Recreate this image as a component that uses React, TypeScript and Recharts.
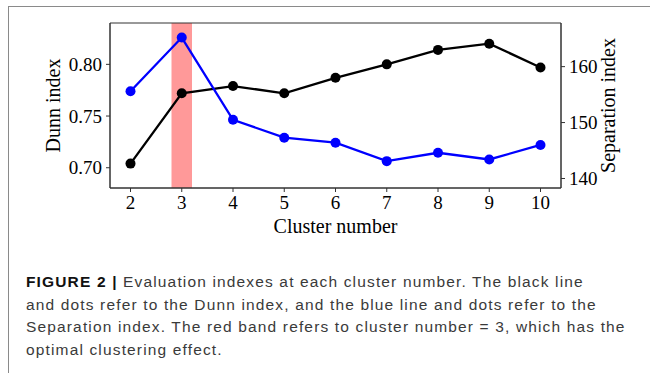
import React from "react";
import {
  ComposedChart,
  Line,
  XAxis,
  YAxis,
  ReferenceArea,
  Label,
} from "recharts";

// valores
const clusters = [2, 3, 4, 5, 6, 7, 8, 9, 10];
const dunnIndex = [0.704, 0.772, 0.779, 0.772, 0.787, 0.8, 0.814, 0.82, 0.797];
const separationIndex = [155.6, 165.2, 150.5, 147.3, 146.4, 143.1, 144.6, 143.4, 146.0];
const dunnTicks = [0.7, 0.75, 0.8];
const separationTicks = [140, 150, 160];
const optimalBand = [2.8, 3.2];

const serif = "'Liberation Serif', 'Times New Roman', serif";
const sans = "'Liberation Sans', Arial, sans-serif";

const data = clusters.map((c, i) => ({
  cluster: c,
  dunn: dunnIndex[i],
  separation: separationIndex[i],
}));

const tickStyle = { fill: "#000", fontSize: 19, fontFamily: serif };

const LeftLabel = (props: any) => {
  const vb = props.viewBox || { x: 50, y: 23, width: 60, height: 165 };
  const x = vb.x + 10;
  const y = vb.y + vb.height / 2;
  return (
    <text
      x={x}
      y={y}
      transform={`rotate(-90, ${x}, ${y})`}
      textAnchor="middle"
      fontSize={20}
      fontFamily={serif}
      fill="#000"
    >
      Dunn index
    </text>
  );
};

const RightLabel = (props: any) => {
  const vb = props.viewBox || { x: 561, y: 23, width: 60, height: 165 };
  const x = vb.x + 54;
  const y = vb.y + vb.height / 2;
  return (
    <text
      x={x}
      y={y}
      transform={`rotate(-90, ${x}, ${y})`}
      textAnchor="middle"
      fontSize={20}
      fontFamily={serif}
      fill="#000"
    >
      Separation index
    </text>
  );
};

const BottomLabel = (props: any) => {
  const vb = props.viewBox || { x: 110, y: 188, width: 451, height: 30 };
  return (
    <text
      x={vb.x + vb.width / 2}
      y={vb.y + 45}
      textAnchor="middle"
      fontSize={20}
      fontFamily={serif}
      fill="#000"
    >
      Cluster number
    </text>
  );
};

export default function App() {
  return (
    <div
      style={{
        position: "absolute",
        left: 0,
        top: 0,
        width: 650,
        height: 373,
        background: "#fff",
        overflow: "hidden",
      }}
    >
      {/* moldura da figura */}
      <div
        style={{
          position: "absolute",
          left: 8,
          top: 6,
          width: 660,
          height: 400,
          borderTop: "1.5px solid #8a8a8a",
          borderLeft: "1.5px solid #8a8a8a",
        }}
      />
      <div style={{ position: "absolute", left: 0, top: 0 }}>
        <ComposedChart
          width={650}
          height={245}
          data={data}
          margin={{ top: 23, right: 29, left: 50, bottom: 27 }}
        >
          <XAxis
            dataKey="cluster"
            type="number"
            domain={[1.6, 10.4]}
            ticks={clusters}
            allowDataOverflow
            height={30}
            tickSize={4}
            tickMargin={4}
            tick={tickStyle}
            axisLine={{ stroke: "#333" }}
            tickLine={{ stroke: "#333" }}
          >
            <Label content={BottomLabel} />
          </XAxis>
          <YAxis
            yAxisId="dunn"
            orientation="left"
            width={60}
            domain={[0.6804, 0.84]}
            ticks={dunnTicks}
            allowDataOverflow
            tickFormatter={(v: number) => v.toFixed(2)}
            tickSize={4}
            tickMargin={4}
            tick={tickStyle}
            axisLine={{ stroke: "#333" }}
            tickLine={{ stroke: "#333" }}
          >
            <Label content={LeftLabel} />
          </YAxis>
          <YAxis
            yAxisId="sep"
            orientation="right"
            width={60}
            domain={[138.3, 167.8]}
            ticks={separationTicks}
            allowDataOverflow
            tickSize={4}
            tickMargin={4}
            tick={tickStyle}
            axisLine={{ stroke: "#333" }}
            tickLine={{ stroke: "#333" }}
          >
            <Label content={RightLabel} />
          </YAxis>
          {/* faixa vermelha: número ótimo de clusters */}
          <ReferenceArea
            yAxisId="dunn"
            x1={optimalBand[0]}
            x2={optimalBand[1]}
            fill="#ff0000"
            fillOpacity={0.4}
            stroke="none"
          />
          {/* borda superior do gráfico */}
          <ReferenceArea
            yAxisId="dunn"
            x1={1.6}
            x2={10.4}
            fill="none"
            stroke="#333"
            strokeWidth={1}
          />
          <Line
            yAxisId="dunn"
            dataKey="dunn"
            type="linear"
            stroke="#000"
            strokeWidth={2.3}
            dot={{ r: 5, fill: "#000", stroke: "#000", strokeWidth: 0 }}
            activeDot={false}
            isAnimationActive={false}
          />
          <Line
            yAxisId="sep"
            dataKey="separation"
            type="linear"
            stroke="#0000ff"
            strokeWidth={2.3}
            dot={{ r: 5, fill: "#0000ff", stroke: "#0000ff", strokeWidth: 0 }}
            activeDot={false}
            isAnimationActive={false}
          />
        </ComposedChart>
      </div>
      <div
        style={{
          position: "absolute",
          left: 26,
          top: 271,
          fontFamily: sans,
          fontSize: 15.5,
          lineHeight: "22.5px",
          letterSpacing: 1.15,
          color: "#3a3a3a",
          whiteSpace: "nowrap",
        }}
      >
        <div>
          <b style={{ color: "#111" }}>FIGURE 2 |</b> Evaluation indexes at each
          cluster number. The black line
        </div>
        <div>
          and dots refer to the Dunn index, and the blue line and dots refer to the
        </div>
        <div>
          Separation index. The red band refers to cluster number = 3, which has the
        </div>
        <div>optimal clustering effect.</div>
      </div>
    </div>
  );
}
